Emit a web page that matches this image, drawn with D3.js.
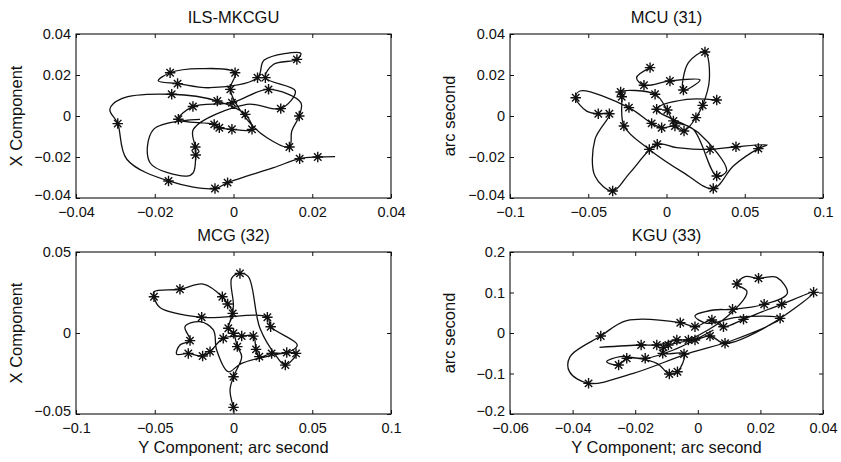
<!DOCTYPE html>
<html>
<head>
<meta charset="utf-8">
<script src="https://cdn.jsdelivr.net/npm/d3@7"></script>
<style>
  html, body { margin: 0; padding: 0; background: #fff; }
  svg { display: block; }
  text { font-family: "Liberation Sans", Arial, Helvetica, sans-serif; fill: #111; }
</style>
</head>
<body>
<svg id="chart" width="841" height="462"></svg>
<script>
// Polar-motion style traces: [Y component, X component, starred sample (1) or curve point (0)]
const ilsPath = [
  [0.0258,-0.0198,0],[0.0214,-0.0200,1],[0.0168,-0.0208,1],[0.0102,-0.0252,0],
  [-0.0015,-0.0325,1],[-0.0047,-0.0354,1],[-0.0165,-0.0317,1],[-0.0271,-0.0211,0],
  [-0.0294,-0.0037,1],[-0.0314,0.0033,0],[-0.0284,0.0085,0],[-0.0157,0.0106,1],
  [-0.0041,0.0073,1],[0.0030,0.0008,1],[0.0047,-0.0065,1],[-0.0004,-0.0065,1],
  [-0.0036,-0.0057,1],[-0.0049,-0.0041,1],[-0.0140,-0.0016,1],[-0.0103,0.0046,1],
  [-0.0004,0.0065,1],[0.0089,0.0130,1],[0.0171,0.0065,0],[0.0167,0.0000,1],
  [0.0148,-0.0073,0],[0.0142,-0.0151,1],[0.0085,-0.0106,0],[0.0034,-0.0016,0],
  [-0.0008,0.0130,1],[0.0004,0.0211,1],[-0.0085,0.0231,0],[-0.0161,0.0211,1],
  [-0.0191,0.0171,0],[-0.0142,0.0158,1],[-0.0059,0.0138,0],[0.0061,0.0187,1],
  [0.0078,0.0273,0],[0.0171,0.0306,0],[0.0161,0.0276,1],[0.0102,0.0252,0],
  [0.0081,0.0187,1],[0.0157,0.0122,0],[0.0120,0.0036,1],[0.0034,0.0057,0],
  [-0.0102,-0.0065,0],[-0.0097,-0.0151,1],[-0.0096,-0.0190,1],[-0.0102,-0.0276,0],
  [-0.0119,-0.0293,0],[-0.0212,-0.0228,0],[-0.0203,-0.0065,0],[-0.0085,-0.0016,0]
];

const mcuPath = [
  [-0.0105,0.0236,1],[-0.0191,0.0187,0],[-0.0144,0.0150,1],[0.0022,0.0171,1],
  [0.0214,0.0176,0],[0.0108,0.0127,1],[0.0140,0.0260,0],[0.0246,0.0312,1],
  [0.0274,0.0179,0],[0.0231,0.0052,1],[0.0188,-0.0008,1],[0.0112,-0.0073,1],
  [0.0054,-0.0049,1],[-0.0031,-0.0057,1],[-0.0095,-0.0036,1],[-0.0240,0.0041,1],
  [-0.0553,0.0122,0],[-0.0580,0.0089,1],[-0.0510,0.0024,0],[-0.0436,0.0011,1],
  [-0.0365,0.0011,1],[-0.0457,-0.0114,0],[-0.0457,-0.0293,0],[-0.0344,-0.0366,1],
  [-0.0233,-0.0276,0],[-0.0059,-0.0138,1],[0.0065,-0.0154,0],[0.0278,-0.0163,1],
  [0.0444,-0.0150,1],[0.0644,-0.0141,0],[0.0587,-0.0159,1],[0.0427,-0.0244,0],
  [0.0299,-0.0354,1],[0.0108,-0.0276,0],[-0.0110,-0.0163,1],[-0.0272,-0.0049,1],
  [-0.0286,0.0094,1],[-0.0293,0.0117,1],[-0.0073,0.0106,1],[0.0005,0.0029,1],
  [0.0044,-0.0024,1],[0.0171,-0.0065,0],[0.0321,-0.0293,1],[0.0384,-0.0268,0],
  [0.0203,-0.0081,0],[-0.0063,0.0033,1],[0.0129,0.0081,0],[0.0321,0.0078,1]
];

const mcgPath = [
  [0.0000,-0.0459,1],[-0.0022,-0.0352,0],[0.0000,-0.0270,1],[0.0052,-0.0146,0],
  [0.0024,-0.0084,1],[0.0000,-0.0002,1],[-0.0033,0.0029,1],[-0.0005,0.0121,1],
  [-0.0037,0.0179,1],[-0.0071,0.0224,1],[-0.0192,0.0302,0],[-0.0340,0.0270,1],
  [-0.0505,0.0255,0],[-0.0505,0.0224,1],[-0.0467,0.0158,0],[-0.0202,0.0097,1],
  [0.0215,0.0097,1],[0.0236,0.0039,1],[0.0405,-0.0074,0],[0.0338,-0.0121,1],
  [0.0242,-0.0126,1],[0.0164,-0.0146,1],[0.0143,-0.0101,1],[0.0126,-0.0019,1],
  [0.0052,-0.0019,1],[-0.0065,-0.0033,1],[-0.0149,-0.0115,1],[-0.0196,-0.0142,1],
  [-0.0287,-0.0126,1],[-0.0361,-0.0130,0],[-0.0340,-0.0074,0],[-0.0276,-0.0047,1],
  [-0.0308,0.0039,0],[-0.0213,0.0070,0],[-0.0128,0.0019,0],[-0.0107,-0.0105,0],
  [-0.0033,-0.0239,0],[0.0052,-0.0187,0],[0.0397,-0.0126,1],[0.0329,-0.0198,1],
  [0.0274,-0.0146,0],[0.0168,0.0029,0],[0.0094,0.0348,0],[0.0041,0.0368,1],
  [-0.0012,0.0337,0],[-0.0001,0.0163,0],[-0.0033,0.0039,0]
];

const kguPath = [
  [-0.0314,-0.0354,0],[-0.0181,-0.0296,1],[-0.0131,-0.0296,1],[-0.0067,-0.0173,1],
  [-0.0009,-0.0173,1],[0.0039,-0.0074,1],[0.0087,-0.0255,1],[0.0220,0.0156,0],
  [0.0370,0.1004,1],[0.0268,0.0708,1],[0.0220,0.0568,0],[0.0146,0.0337,1],
  [0.0082,0.0156,1],[0.0045,0.0321,1],[-0.0009,0.0156,1],[-0.0056,0.0255,1],
  [-0.0227,0.0305,0],[-0.0310,-0.0074,1],[-0.0408,-0.0584,0],[-0.0410,-0.0955,0],
  [-0.0349,-0.1243,1],[-0.0206,-0.0996,0],[-0.0030,-0.0502,0],[0.0114,-0.0173,0],
  [0.0263,0.0362,1],[0.0125,0.0387,0],[0.0029,0.0239,0],[-0.0009,0.0420,0],
  [0.0050,0.0568,0],[0.0111,0.0584,1],[0.0212,0.0708,1],[0.0286,0.0979,0],
  [0.0252,0.1374,0],[0.0194,0.1350,1],[0.0151,0.1391,0],[0.0125,0.1210,1],
  [0.0157,0.1021,0],[0.0093,0.0403,0],[-0.0030,-0.0173,1],[-0.0094,-0.0296,1],
  [-0.0110,-0.0354,1],[-0.0112,-0.0502,1],[-0.0044,-0.0519,1],[-0.0065,-0.0955,1],
  [-0.0091,-0.1012,1],[-0.0131,-0.0749,0],[-0.0227,-0.0626,1],[-0.0253,-0.0790,1],
  [-0.0291,-0.0708,0],[-0.0248,-0.0584,0],[-0.0168,-0.0626,1],[-0.0078,-0.0420,0],
  [0.0050,0.0074,0]
];

// Axis tick values for each panel
const ilsXTicks = [-0.04, -0.02, 0, 0.02, 0.04];
const ilsYTicks = [-0.04, -0.02, 0, 0.02, 0.04];
const mcuXTicks = [-0.1, -0.05, 0, 0.05, 0.1];
const mcuYTicks = [-0.04, -0.02, 0, 0.02, 0.04];
const mcgXTicks = [-0.1, -0.05, 0, 0.05, 0.1];
const mcgYTicks = [-0.05, 0, 0.05];
const kguXTicks = [-0.06, -0.04, -0.02, 0, 0.02, 0.04];
const kguYTicks = [-0.2, -0.1, 0, 0.1, 0.2];

const panelTitles = ["ILS-MKCGU", "MCU (31)", "MCG (32)", "KGU (33)"];
const yLabels = ["X  Component", "arc second", "X  Component", "arc second"];
const xLabels = ["", "", "Y  Component;  arc second", "Y  Component;  arc second"];

const panels = [
  { path: ilsPath, xt: ilsXTicks, yt: ilsYTicks, box: [76, 34, 391, 198] },
  { path: mcuPath, xt: mcuXTicks, yt: mcuYTicks, box: [510, 34, 823, 198] },
  { path: mcgPath, xt: mcgXTicks, yt: mcgYTicks, box: [76, 252, 391, 414] },
  { path: kguPath, xt: kguXTicks, yt: kguYTicks, box: [510, 252, 823, 414] }
];

const svg = d3.select("#chart");
svg.append("rect").attr("width", 841).attr("height", 462).attr("fill", "#fff");

const fmt = d3.format("~g");
const ink = "#111";
const tickFont = "14.5px";
const labelFont = "16.5px";

// Eight-armed asterisk marker
const asterisk = {
  draw(ctx, size) {
    const r = Math.sqrt(size) / 2;
    const d = r * Math.SQRT1_2;
    ctx.moveTo(-r, 0); ctx.lineTo(r, 0);
    ctx.moveTo(0, -r); ctx.lineTo(0, r);
    ctx.moveTo(-d, -d); ctx.lineTo(d, d);
    ctx.moveTo(-d, d); ctx.lineTo(d, -d);
  }
};

panels.forEach((p, i) => {
  const [x0, y0, x1, y1] = p.box;
  const x = d3.scaleLinear().domain(d3.extent(p.xt)).range([x0, x1]);
  const y = d3.scaleLinear().domain(d3.extent(p.yt)).range([y1, y0]);
  const g = svg.append("g");

  // frame with inward ticks on all four sides
  const styleAxis = sel => {
    sel.select(".domain").remove();
    sel.selectAll(".tick line").attr("stroke", ink).attr("stroke-width", 1);
    sel.selectAll(".tick text").attr("fill", ink).style("font-size", tickFont)
      .style("font-family", "'Liberation Sans', Arial, Helvetica, sans-serif");
  };
  g.append("g").attr("transform", `translate(0,${y1})`)
    .call(d3.axisBottom(x).tickValues(p.xt).tickFormat(fmt).tickSize(-4).tickPadding(9))
    .call(styleAxis);
  g.append("g").attr("transform", `translate(0,${y0})`)
    .call(d3.axisTop(x).tickValues(p.xt).tickFormat("").tickSize(-4))
    .call(styleAxis);
  const left = g.append("g").attr("transform", `translate(${x0},0)`)
    .call(d3.axisLeft(y).tickValues(p.yt).tickFormat(fmt).tickSize(-4).tickPadding(5))
    .call(styleAxis);
  // lift the lowest value label a touch so it clears the horizontal labels
  left.selectAll(".tick text").filter(d => d === d3.min(p.yt)).attr("dy", "0.1em");
  g.append("g").attr("transform", `translate(${x1},0)`)
    .call(d3.axisRight(y).tickValues(p.yt).tickFormat("").tickSize(-4))
    .call(styleAxis);
  g.append("rect")
    .attr("x", x0).attr("y", y0).attr("width", x1 - x0).attr("height", y1 - y0)
    .attr("fill", "none").attr("stroke", ink).attr("stroke-width", 1.1);

  // trace
  const line = d3.line().x(d => x(d[0])).y(d => y(d[1]))
    .curve(d3.curveCatmullRom.alpha(0.5));
  g.append("path").datum(p.path).attr("d", line)
    .attr("fill", "none").attr("stroke", ink).attr("stroke-width", 1.3)
    .attr("stroke-linejoin", "round");

  // starred samples
  g.selectAll("path.star").data(p.path.filter(d => d[2] === 1)).join("path")
    .attr("class", "star")
    .attr("transform", d => `translate(${x(d[0])},${y(d[1])})`)
    .attr("d", d3.symbol().type(asterisk).size(110))
    .attr("fill", "none").attr("stroke", ink).attr("stroke-width", 1.4);

  // title and axis labels
  const cx = (x0 + x1) / 2, cy = (y0 + y1) / 2;
  g.append("text").attr("x", cx).attr("y", y0 - 11).attr("text-anchor", "middle")
    .style("font-size", labelFont).text(panelTitles[i]);
  const ylx = i % 2 === 0 ? 22 : 455;
  g.append("text").attr("transform", `translate(${ylx},${cy}) rotate(-90)`)
    .attr("text-anchor", "middle").style("font-size", labelFont).text(yLabels[i]);
  if (xLabels[i]) {
    g.append("text").attr("x", cx).attr("y", 453).attr("text-anchor", "middle")
      .style("font-size", labelFont).text(xLabels[i]);
  }
});
</script>
</body>
</html>
